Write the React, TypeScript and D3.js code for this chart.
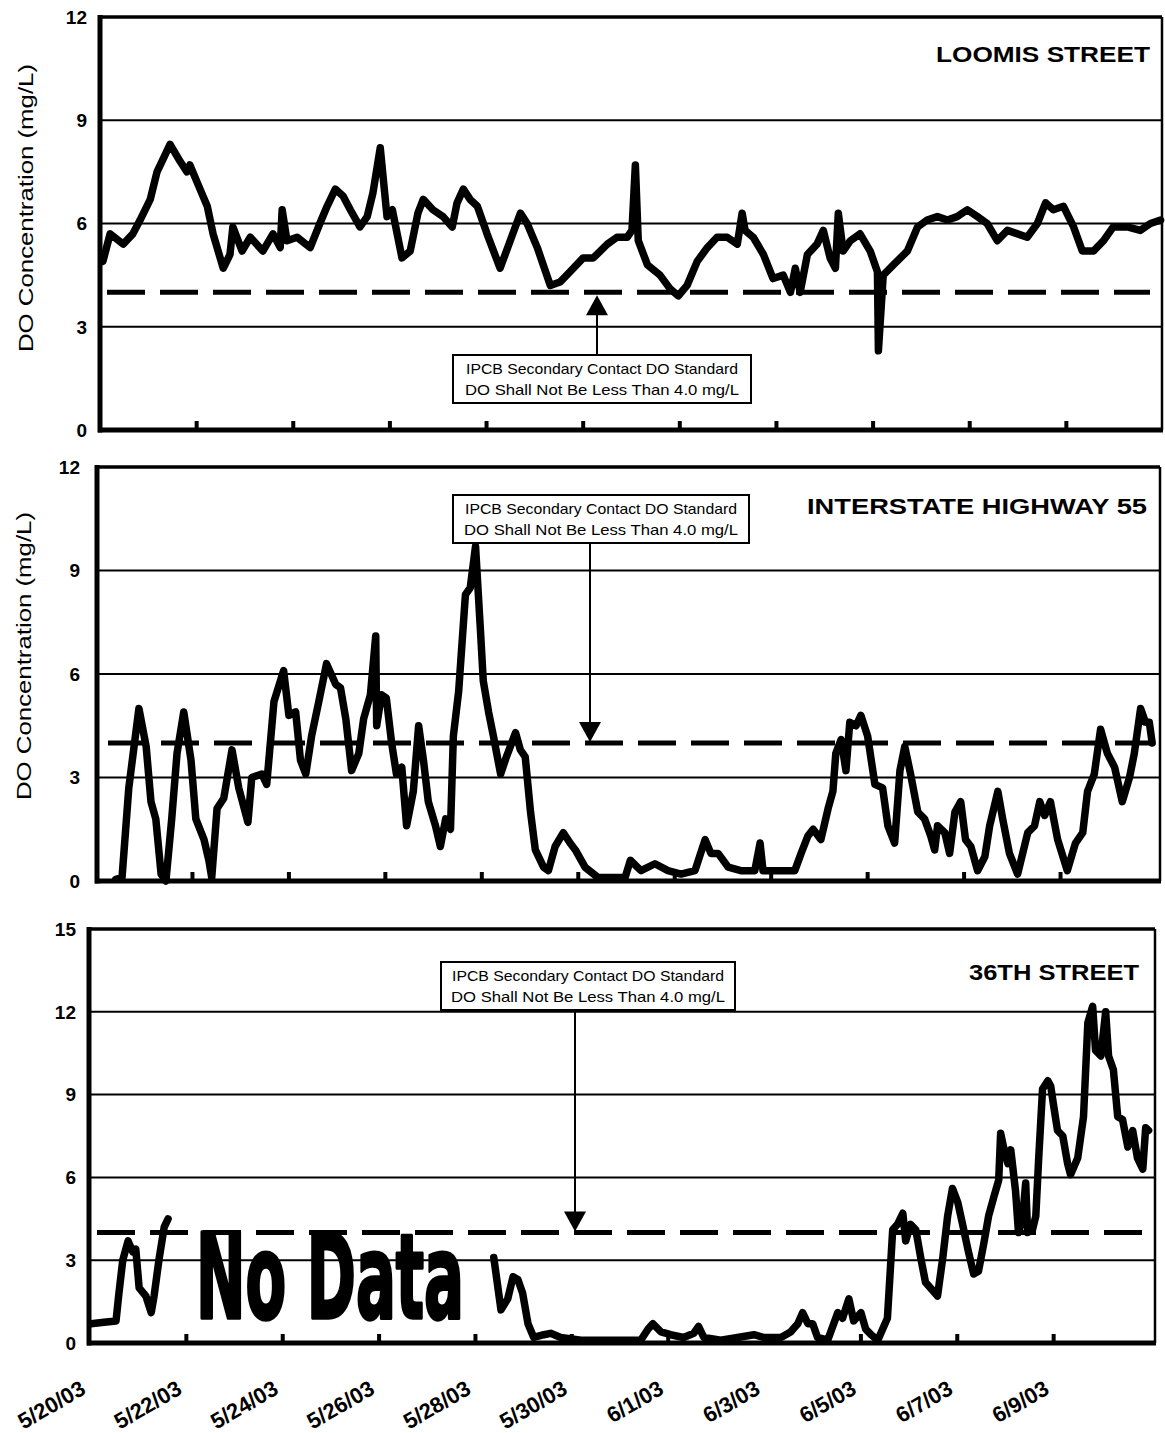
import React from 'react';
import * as d3 from 'd3';

// ---------- DATA ----------
const tickDays = [0, 2, 4, 6, 8, 10, 12, 14, 16, 18, 20];
const dateLabels = ['5/20/03', '5/22/03', '5/24/03', '5/26/03', '5/28/03', '5/30/03', '6/1/03', '6/3/03', '6/5/03', '6/7/03', '6/9/03'];
const yTicksA = [0, 3, 6, 9, 12];
const yTicksB = [0, 3, 6, 9, 12, 15];
const standardDO = 4.0;
const titles = ['LOOMIS STREET', 'INTERSTATE HIGHWAY 55', '36TH STREET'];
const noteLines = ['IPCB Secondary Contact DO Standard', 'DO Shall Not Be Less Than 4.0 mg/L'];
const yTitle = 'DO Concentration (mg/L)';

// days since 5/20/03
const loomisT = [0.06, 0.21, 0.48, 0.68, 0.83, 1.04, 1.18, 1.45, 1.66, 1.80, 1.86, 2.07, 2.22, 2.34, 2.55, 2.69, 2.75, 2.94, 3.11, 3.37, 3.58, 3.73, 3.77, 3.87, 4.08, 4.35, 4.55, 4.70, 4.87, 5.03, 5.18, 5.38, 5.53, 5.65, 5.80, 5.94, 6.05, 6.25, 6.42, 6.58, 6.69, 6.89, 7.10, 7.29, 7.39, 7.52, 7.66, 7.81, 8.01, 8.28, 8.49, 8.70, 8.84, 9.05, 9.32, 9.52, 9.73, 10.0, 10.21, 10.50, 10.70, 10.91, 11.01, 11.08, 11.14, 11.33, 11.59, 11.80, 11.97, 12.15, 12.36, 12.57, 12.77, 12.98, 13.19, 13.29, 13.35, 13.52, 13.73, 13.93, 14.14, 14.29, 14.39, 14.49, 14.64, 14.84, 14.97, 15.11, 15.22, 15.28, 15.38, 15.53, 15.73, 15.94, 16.09, 16.11, 16.21, 16.42, 16.71, 16.92, 17.12, 17.33, 17.54, 17.74, 17.95, 18.16, 18.36, 18.57, 18.78, 18.99, 19.19, 19.40, 19.57, 19.73, 19.94, 20.15, 20.33, 20.56, 20.77, 20.97, 21.26, 21.53, 21.74, 21.95];
const loomisDO = [4.9, 5.7, 5.4, 5.7, 6.1, 6.7, 7.5, 8.3, 7.8, 7.5, 7.7, 7.0, 6.5, 5.7, 4.7, 5.1, 5.9, 5.2, 5.6, 5.2, 5.7, 5.3, 6.4, 5.5, 5.6, 5.3, 6.0, 6.5, 7.0, 6.8, 6.4, 5.9, 6.2, 6.9, 8.2, 6.2, 6.4, 5.0, 5.2, 6.3, 6.7, 6.4, 6.2, 5.9, 6.6, 7.0, 6.7, 6.5, 5.7, 4.7, 5.5, 6.3, 6.0, 5.3, 4.2, 4.3, 4.6, 5.0, 5.0, 5.4, 5.6, 5.6, 5.8, 7.7, 5.5, 4.8, 4.5, 4.1, 3.9, 4.2, 4.9, 5.3, 5.6, 5.6, 5.4, 6.3, 5.8, 5.6, 5.1, 4.4, 4.5, 4.0, 4.7, 4.0, 5.1, 5.4, 5.8, 5.0, 4.7, 6.3, 5.2, 5.5, 5.7, 5.2, 4.6, 2.3, 4.5, 4.8, 5.2, 5.9, 6.1, 6.2, 6.1, 6.2, 6.4, 6.2, 6.0, 5.5, 5.8, 5.7, 5.6, 6.0, 6.6, 6.4, 6.5, 5.9, 5.2, 5.2, 5.5, 5.9, 5.9, 5.8, 6.0, 6.1];

const i55T = [0.41, 0.54, 0.68, 0.89, 1.04, 1.14, 1.24, 1.35, 1.45, 1.57, 1.68, 1.82, 1.97, 2.07, 2.24, 2.34, 2.40, 2.51, 2.65, 2.82, 2.96, 3.15, 3.23, 3.44, 3.54, 3.69, 3.89, 4.00, 4.14, 4.24, 4.35, 4.47, 4.62, 4.78, 4.97, 5.07, 5.18, 5.30, 5.45, 5.55, 5.69, 5.80, 5.82, 5.92, 6.02, 6.13, 6.23, 6.34, 6.44, 6.58, 6.69, 6.79, 6.89, 7.04, 7.14, 7.25, 7.35, 7.41, 7.52, 7.66, 7.76, 7.87, 7.97, 8.03, 8.14, 8.24, 8.39, 8.51, 8.70, 8.80, 8.90, 9.01, 9.11, 9.28, 9.38, 9.52, 9.69, 9.83, 9.94, 10.14, 10.41, 10.77, 10.97, 11.08, 11.30, 11.59, 11.86, 12.13, 12.42, 12.63, 12.75, 12.90, 13.11, 13.37, 13.66, 13.77, 13.83, 14.14, 14.49, 14.62, 14.76, 14.87, 15.03, 15.18, 15.28, 15.34, 15.45, 15.55, 15.63, 15.76, 15.86, 16.00, 16.15, 16.31, 16.42, 16.56, 16.67, 16.77, 16.89, 17.04, 17.18, 17.31, 17.39, 17.45, 17.60, 17.70, 17.81, 17.93, 18.03, 18.14, 18.28, 18.43, 18.53, 18.70, 18.80, 18.94, 19.11, 19.32, 19.46, 19.57, 19.67, 19.79, 19.94, 20.14, 20.31, 20.46, 20.56, 20.70, 20.83, 20.97, 21.12, 21.28, 21.43, 21.53, 21.66, 21.76, 21.84, 21.90];
const i55DO = [0.05, 0.1, 2.7, 5.0, 3.9, 2.3, 1.8, 0.2, 0.0, 1.8, 3.7, 4.9, 3.5, 1.8, 1.2, 0.6, 0.1, 2.1, 2.4, 3.8, 2.7, 1.7, 3.0, 3.1, 2.8, 5.2, 6.1, 4.8, 4.9, 3.5, 3.1, 4.2, 5.2, 6.3, 5.7, 5.6, 4.7, 3.2, 3.7, 4.7, 5.4, 7.1, 4.5, 5.4, 5.3, 4.0, 3.1, 3.3, 1.6, 2.6, 4.5, 3.5, 2.3, 1.6, 1.0, 1.8, 1.5, 4.2, 5.5, 8.3, 8.5, 9.7, 7.3, 5.8, 4.9, 4.2, 3.1, 3.6, 4.3, 3.8, 3.6, 2.0, 0.9, 0.4, 0.3, 1.0, 1.4, 1.1, 0.9, 0.4, 0.1, 0.1, 0.1, 0.6, 0.3, 0.5, 0.3, 0.2, 0.3, 1.2, 0.8, 0.8, 0.4, 0.3, 0.3, 1.1, 0.3, 0.3, 0.3, 0.8, 1.3, 1.5, 1.2, 2.1, 2.6, 3.7, 4.1, 3.2, 4.6, 4.5, 4.8, 4.2, 2.8, 2.7, 1.6, 1.1, 3.2, 3.9, 3.1, 2.0, 1.8, 1.3, 0.9, 1.6, 1.4, 0.8, 2.0, 2.3, 1.2, 1.0, 0.3, 0.7, 1.6, 2.6, 1.8, 0.8, 0.2, 1.4, 1.6, 2.3, 1.9, 2.3, 1.2, 0.3, 1.1, 1.4, 2.6, 3.1, 4.4, 3.7, 3.3, 2.3, 3.0, 3.7, 5.0, 4.6, 4.6, 4.0];

const st36T1 = [0.02, 0.29, 0.54, 0.60, 0.68, 0.79, 0.89, 0.95, 1.02, 1.16, 1.27, 1.33, 1.43, 1.54, 1.62];
const st36DO1 = [0.7, 0.75, 0.8, 1.8, 3.0, 3.7, 3.3, 3.4, 2.0, 1.7, 1.1, 1.7, 3.0, 4.2, 4.5];
const st36T2 = [8.38, 8.53, 8.67, 8.78, 8.88, 8.98, 9.09, 9.21, 9.42, 9.56, 9.77, 10.19, 10.87, 11.43, 11.58, 11.68, 11.85, 12.05, 12.32, 12.53, 12.63, 12.74, 13.09, 13.44, 13.78, 13.98, 14.34, 14.54, 14.69, 14.79, 14.90, 15.00, 15.10, 15.31, 15.52, 15.62, 15.75, 15.85, 16.00, 16.10, 16.21, 16.35, 16.45, 16.55, 16.66, 16.76, 16.87, 16.93, 17.03, 17.14, 17.24, 17.34, 17.49, 17.59, 17.70, 17.80, 17.90, 18.01, 18.11, 18.22, 18.34, 18.44, 18.55, 18.65, 18.76, 18.86, 18.90, 18.96, 19.05, 19.11, 19.21, 19.27, 19.36, 19.42, 19.46, 19.56, 19.63, 19.69, 19.77, 19.88, 19.94, 20.00, 20.08, 20.19, 20.29, 20.35, 20.50, 20.62, 20.71, 20.81, 20.87, 20.98, 21.08, 21.14, 21.24, 21.33, 21.43, 21.54, 21.64, 21.74, 21.85, 21.91, 21.97];
const st36DO2 = [3.1, 1.2, 1.6, 2.4, 2.3, 1.8, 0.7, 0.2, 0.3, 0.35, 0.2, 0.1, 0.1, 0.1, 0.5, 0.7, 0.4, 0.3, 0.2, 0.35, 0.6, 0.2, 0.1, 0.2, 0.3, 0.2, 0.2, 0.4, 0.7, 1.1, 0.7, 0.7, 0.2, 0.1, 1.1, 0.9, 1.6, 0.8, 1.1, 0.5, 0.3, 0.1, 0.5, 0.9, 4.1, 4.3, 4.7, 3.7, 4.3, 4.1, 3.1, 2.2, 1.9, 1.7, 3.1, 4.6, 5.6, 5.1, 4.3, 3.4, 2.5, 2.6, 3.6, 4.6, 5.3, 5.9, 7.6, 7.1, 6.5, 7.0, 5.5, 4.0, 4.6, 5.8, 4.0, 4.1, 4.6, 6.7, 9.2, 9.5, 9.3, 8.6, 7.7, 7.5, 6.5, 6.1, 6.7, 8.2, 11.6, 12.2, 10.6, 10.4, 12.0, 10.4, 9.9, 8.2, 8.1, 7.1, 7.7, 6.7, 6.3, 7.8, 7.7];

type Seg = { t: number[]; v: number[] };

const FONT = 'Liberation Sans, Arimo, Arial, Helvetica, sans-serif';

interface PanelCfg {
  left: number; right: number; xr: [number, number];
  yTop: number; yBot: number; ymax: number; ticks: number[];
  segs: Seg[]; title: string; titleRight: number; titleBase: number; titleLen: number;
  box: { x: number; y: number; w: number; h: number }; arrowX: number; arrowUp: boolean;
  dash: [number, number]; tickLabelX: number; yTitle?: { x: number; y: number };
  noData?: boolean; xLabels?: boolean;
}

const panels: PanelCfg[] = [
  {
    left: 100, right: 1162, xr: [100, 1163], yTop: 17, yBot: 430, ymax: 12, ticks: yTicksA,
    segs: [{ t: loomisT, v: loomisDO }], title: titles[0], titleRight: 1150, titleBase: 62, titleLen: 214,
    box: { x: 453, y: 355, w: 298, h: 48 }, arrowX: 597, arrowUp: true, dash: [107, 1150], tickLabelX: 87,
    yTitle: { x: 33, y: 208 },
  },
  {
    left: 97, right: 1160, xr: [96, 1157], yTop: 467, yBot: 881, ymax: 12, ticks: yTicksA,
    segs: [{ t: i55T, v: i55DO }], title: titles[1], titleRight: 1147, titleBase: 514, titleLen: 340,
    box: { x: 453, y: 495, w: 296, h: 48 }, arrowX: 590, arrowUp: false, dash: [108, 1150], tickLabelX: 80,
    yTitle: { x: 31, y: 656 },
  },
  {
    left: 89, right: 1155, xr: [90, 1150], yTop: 929, yBot: 1343, ymax: 15, ticks: yTicksB,
    segs: [{ t: st36T1, v: st36DO1 }, { t: st36T2, v: st36DO2 }], title: titles[2], titleRight: 1139, titleBase: 980, titleLen: 170,
    box: { x: 441, y: 962, w: 294, h: 48 }, arrowX: 575, arrowUp: false, dash: [97, 1143], tickLabelX: 76,
    noData: true, xLabels: true,
  },
];

function Panel({ p }: { p: PanelCfg }) {
  const x = d3.scaleLinear().domain([0, 22]).range(p.xr);
  const y = d3.scaleLinear().domain([0, p.ymax]).range([p.yBot, p.yTop]);
  const y4 = y(standardDO);
  const mk = (s: Seg) =>
    d3.line<number>()
      .x((i) => x(s.t[i]))
      .y((i) => y(s.v[i]))(s.t.map((_, i) => i)) || '';
  const bx = p.box;
  const headLen = 20;
  const headW = 11;
  return (
    <g>
      {/* gridlines */}
      {p.ticks.filter((t) => t > 0 && t < p.ymax).map((t) => (
        <line key={t} x1={p.left} x2={p.right} y1={y(t)} y2={y(t)} stroke="#000" strokeWidth={2} />
      ))}
      {/* frame */}
      <line x1={p.left} x2={p.right} y1={y(p.ymax)} y2={y(p.ymax)} stroke="#000" strokeWidth={3.5} />
      <line x1={p.right} x2={p.right} y1={y(p.ymax)} y2={p.yBot} stroke="#000" strokeWidth={2.5} />
      {/* standard */}
      <line x1={p.dash[0]} x2={p.dash[1]} y1={y4} y2={y4} stroke="#000" strokeWidth={5} strokeDasharray="38 15" />
      {p.noData && (
        <text x={196} y={1318} fontFamily="DejaVu Sans Condensed, DejaVu Sans, sans-serif"
          fontWeight="bold" fontSize={118} textLength={268} lengthAdjust="spacingAndGlyphs"
          fill="#000" stroke="#000" strokeWidth={3.5} strokeLinejoin="round">No Data</text>
      )}
      {/* series */}
      {p.segs.map((s, i) => (
        <path key={i} d={mk(s)} fill="none" stroke="#000" strokeWidth={7.5} strokeLinejoin="round" strokeLinecap="round" />
      ))}
      {/* axes */}
      <line x1={p.left} x2={p.left} y1={y(p.ymax) - 2} y2={p.yBot + 2.5} stroke="#000" strokeWidth={5} />
      <line x1={p.left - 2} x2={p.right + 1} y1={p.yBot} y2={p.yBot} stroke="#000" strokeWidth={5} />
      {tickDays.filter((d) => d > 0).map((d) => (
        <line key={d} x1={x(d)} x2={x(d)} y1={p.yBot} y2={p.yBot - 9} stroke="#000" strokeWidth={4} />
      ))}
      {/* y tick labels */}
      {p.ticks.map((t) => (
        <text key={t} x={p.tickLabelX} y={y(t)} dy="0.36em" textAnchor="end" fontFamily={FONT}
          fontWeight="bold" fontSize={19} fill="#000">{t}</text>
      ))}
      {p.yTitle && (
        <text transform={`translate(${p.yTitle.x},${p.yTitle.y}) rotate(-90)`} textAnchor="middle"
          fontFamily={FONT} fontSize={20} textLength={288} lengthAdjust="spacingAndGlyphs" fill="#000">{yTitle}</text>
      )}
      {/* title */}
      <text x={p.titleRight} y={p.titleBase} textAnchor="end" fontFamily={FONT} fontWeight="bold"
        fontSize={22} textLength={p.titleLen} lengthAdjust="spacingAndGlyphs" fill="#000">{p.title}</text>
      {/* annotation box */}
      <rect x={bx.x} y={bx.y} width={bx.w} height={bx.h} fill="#fff" stroke="#000" strokeWidth={2} />
      {noteLines.map((l, i) => (
        <text key={i} x={bx.x + bx.w / 2} y={bx.y + 19 + i * 21} textAnchor="middle" fontFamily={FONT}
          fontSize={14.5} textLength={i === 0 ? 272 : 274} lengthAdjust="spacingAndGlyphs" fill="#000">{l}</text>
      ))}
      {/* arrow */}
      {p.arrowUp ? (
        <g>
          <line x1={p.arrowX} x2={p.arrowX} y1={bx.y} y2={y4 + headLen} stroke="#000" strokeWidth={2} />
          <path d={`M${p.arrowX},${y4 + 3} L${p.arrowX - headW},${y4 + 3 + headLen} L${p.arrowX + headW},${y4 + 3 + headLen} Z`} fill="#000" />
        </g>
      ) : (
        <g>
          <line x1={p.arrowX} x2={p.arrowX} y1={bx.y + bx.h} y2={y4 - headLen} stroke="#000" strokeWidth={2} />
          <path d={`M${p.arrowX},${y4 - 1} L${p.arrowX - headW},${y4 - 1 - headLen} L${p.arrowX + headW},${y4 - 1 - headLen} Z`} fill="#000" />
        </g>
      )}
      {/* x labels */}
      {p.xLabels && tickDays.map((d, i) => (
        <text key={d} transform={`translate(${x(d) - 3},${p.yBot + 50}) rotate(-30)`} textAnchor="end"
          fontFamily={FONT} fontWeight="bold" fontSize={22} fill="#000">{dateLabels[i]}</text>
      ))}
    </g>
  );
}

export default function App() {
  return (
    <svg width={1165} height={1433} style={{ position: 'absolute', left: 0, top: 0, background: '#fff' }}>
      <rect width={1165} height={1433} fill="#fff" />
      {panels.map((p, i) => <Panel key={i} p={p} />)}
    </svg>
  );
}
